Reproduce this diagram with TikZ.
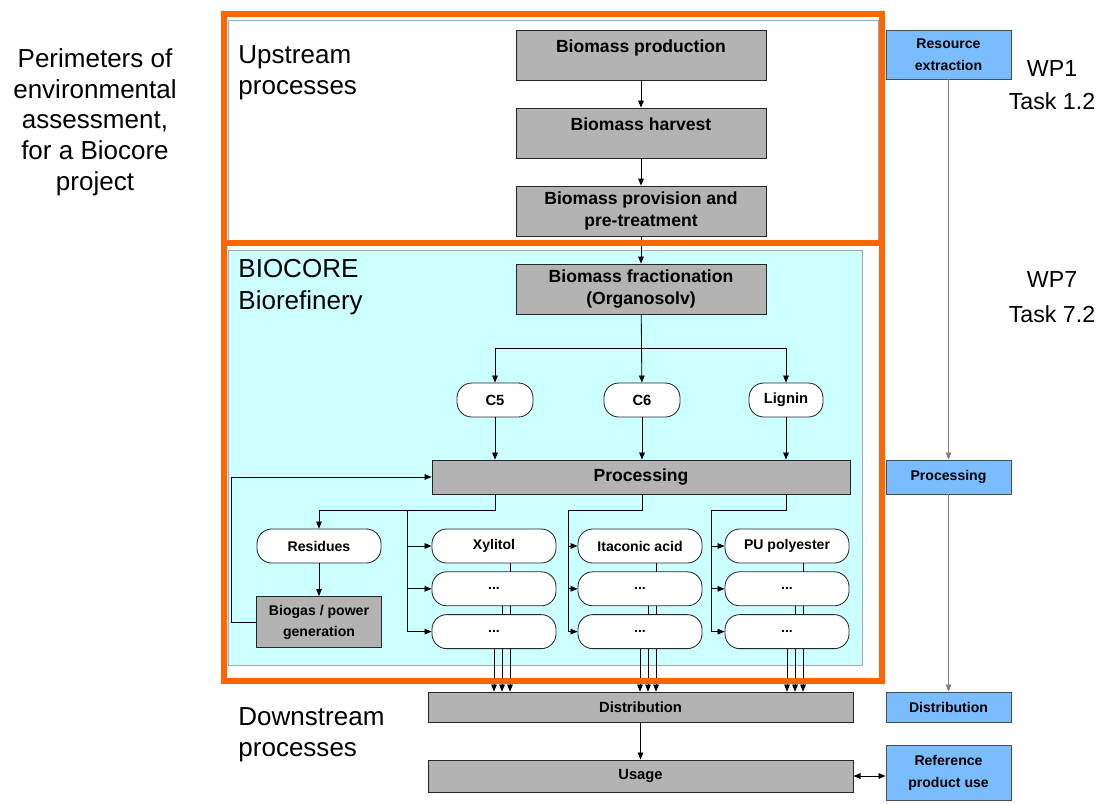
\documentclass[tikz,border=0pt]{standalone}
\usepackage{fontspec}
\setmainfont{Liberation Sans}
\usetikzlibrary{positioning,arrows.meta}

\definecolor{boxgray}{RGB}{179,179,179}
\definecolor{wpblue}{RGB}{122,189,255}
\definecolor{panelcyan}{RGB}{204,255,255}
\definecolor{frameorange}{RGB}{255,102,0}

\pgfdeclarelayer{panel}
\pgfdeclarelayer{lines}
\pgfdeclarelayer{frame}
\pgfsetlayers{panel,lines,main,frame}

\begin{document}
\begin{tikzpicture}[
		x=0.025cm, y=-0.025cm,
		node distance=1.95cm,
		line width=0.6pt,
		>={Triangle[length=5pt,width=4pt]},
		stage/.style = {draw=black!85, fill=boxgray, align=center, inner sep=2pt,
			minimum width=6.25cm, minimum height=1.25cm,
			font=\bfseries\fontsize{12.5}{15.5}\selectfont},
		hightext/.style = {text depth=12pt},
		flow/.style = {draw=black!85, fill=white, rounded corners=0.37cm, align=center,
			minimum width=3.1cm, minimum height=0.85cm,
			font=\bfseries\fontsize{10}{12}\selectfont},
		wp/.style = {draw=black!70, fill=wpblue, align=center, inner sep=1pt,
			minimum width=3.125cm, font=\bfseries\fontsize{10}{15.5}\selectfont},
		bigtext/.style = {inner sep=0pt, font=\fontsize{18.5}{21.8}\selectfont}
	]
	\useasboundingbox (0,0) rectangle (1102,803);

	% Captions.
	\node[bigtext, align=center] (perim) at (95,122) {Perimeters of\\environmental\\assessment,\\for a Biocore\\project};
	\node[bigtext, align=left, anchor=west] (up) at (238,73) {Upstream\\processes};
	\node[bigtext, align=left, anchor=west, font=\fontsize{18.5}{22.5}\selectfont] (core) at (238,287) {BIOCORE\\Biorefinery};
	\node[bigtext, align=left, anchor=west] (down) at (238,735) {Downstream\\processes};
	\node[bigtext, align=center, font=\fontsize{16.5}{23.5}\selectfont] (wp1) at (1052,85) {WP1\\Task 1.2};
	\node[bigtext, align=center, font=\fontsize{16.5}{24.5}\selectfont] (wp7) at (1052,297) {WP7\\Task 7.2};

	% Upstream.
	\node[stage, hightext] (prod) at (641,55) {Biomass production};
	\node[stage, hightext, below of=prod] (harv) {Biomass harvest};
	\node[stage, below of=harv] (prov) {Biomass provision and\\pre-treatment};
	\node[stage, below of=prov] (frac) {Biomass fractionation\\(Organosolv)};

	% Fractions.
	\node[flow, minimum width=1.9cm, font=\bfseries\fontsize{10.5}{12}\selectfont] (c5) at (495,400) {C5};
	\node[flow, minimum width=1.9cm, font=\bfseries\fontsize{10.5}{12}\selectfont] (c6) at (642,400) {C6};
	\node[flow, minimum width=1.85cm, font=\bfseries\fontsize{10.5}{12}\selectfont] (lig) at (786,400) {Lignin};
	\node[stage, minimum width=10.45cm, minimum height=0.85cm] (proc) at (641,477) {Processing};

	% Products.
	\node[flow] (res) at (319,546) {Residues};
	\node[stage, minimum width=3.125cm, minimum height=1.275cm, font=\bfseries\fontsize{10}{15}\selectfont] (bio) at (319,622) {Biogas / power\\generation};
	\node[flow] (xyl) at (494,546) {Xylitol};
	\node[flow, below of=xyl, node distance=1.07cm] (xyl2) {...};
	\node[flow, below of=xyl2, node distance=1.07cm] (xyl3) {...};
	\node[flow] (ita) at (640,546) {Itaconic acid};
	\node[flow, below of=ita, node distance=1.07cm] (ita2) {...};
	\node[flow, below of=ita2, node distance=1.07cm] (ita3) {...};
	\node[flow] (pu) at (787,546) {PU polyester};
	\node[flow, below of=pu, node distance=1.07cm] (pu2) {...};
	\node[flow, below of=pu2, node distance=1.07cm] (pu3) {...};

	% Downstream.
	\node[stage, minimum width=10.625cm, minimum height=0.75cm, font=\bfseries\fontsize{10.5}{12}\selectfont] (dist) at (640.5,707) {Distribution};
	\node[stage, minimum width=10.625cm, minimum height=0.8cm, font=\bfseries\fontsize{10.5}{12}\selectfont] (use) at (640.5,776) {Usage};

	% Work packages.
	\node[wp, minimum height=1.225cm] (rext) at (948.5,54.5) {Resource\\extraction};
	\node[wp, minimum height=0.85cm] (wproc) at (948.5,477) {Processing};
	\node[wp, minimum height=0.75cm] (wdist) at (948.5,707) {Distribution};
	\node[wp, minimum height=1.375cm] (wuse) at (948.5,772.5) {Reference\\product use};

	\coordinate (split) at (641,348);
	\coordinate (bus1) at (407,510);
	\coordinate (bus2) at (568,510);
	\coordinate (bus3) at (711,510);

	\draw[->] (prod) -- (harv);
	\draw[->] (harv) -- (prov);
	\draw[->] (prov) -- (frac);
	\draw[->] (frac) -- (c6);
	\draw[->] (split) -| (c5);
	\draw[->] (split) -| (lig);
	\draw[->] (c5) -- (c5 |- proc.north);
	\draw[->] (c6) -- (c6 |- proc.north);
	\draw[->] (lig) -- (lig |- proc.north);

	\draw[->] (proc.south -| c5) |- (res |- bus1) -- (res);
	\draw (proc.south -| c6) |- (bus2);
	\draw (proc.south -| lig) |- (bus3);
	\foreach \col/\bus in {xyl/bus1, ita/bus2, pu/bus3} {
		\draw[->] (\bus) |- (\col);
		\draw[->] (\bus) |- (\col2);
		\draw[->] (\bus) |- (\col3);
	}
	\draw[->] (res) -- (bio);
	\draw[->] (bio.west) -- ++(-25,0) |- (proc.west);

	\draw[->] (dist) -- (use);
	\draw[<->] (use.east) -- (use.east -| wuse.west);
	\draw[->, gray] (rext) -- (wproc);
	\draw[->, gray] (wproc) -- (wdist);

	\begin{pgfonlayer}{lines}
		\foreach \col in {xyl,ita,pu} {
			\draw[->] ([xshift=4mm]\col.south) -- ([xshift=4mm]\col.south |- dist.north);
			\draw[->] ([xshift=2mm]\col2.south) -- ([xshift=2mm]\col2.south |- dist.north);
			\draw[->] (\col3) -- (\col3 |- dist.north);
		}
	\end{pgfonlayer}

	\begin{pgfonlayer}{panel}
		\draw[gray!70, fill=white] (228,20) rectangle (878,240);
		\draw[gray!70, fill=panelcyan] (228,250) rectangle (862,665);
	\end{pgfonlayer}

	\begin{pgfonlayer}{frame}
		\draw[frameorange, line width=0.15cm] (224,14) rectangle (882,243);
		\draw[frameorange, line width=0.15cm] (224,243) rectangle (882,681);
	\end{pgfonlayer}
\end{tikzpicture}
\end{document}
